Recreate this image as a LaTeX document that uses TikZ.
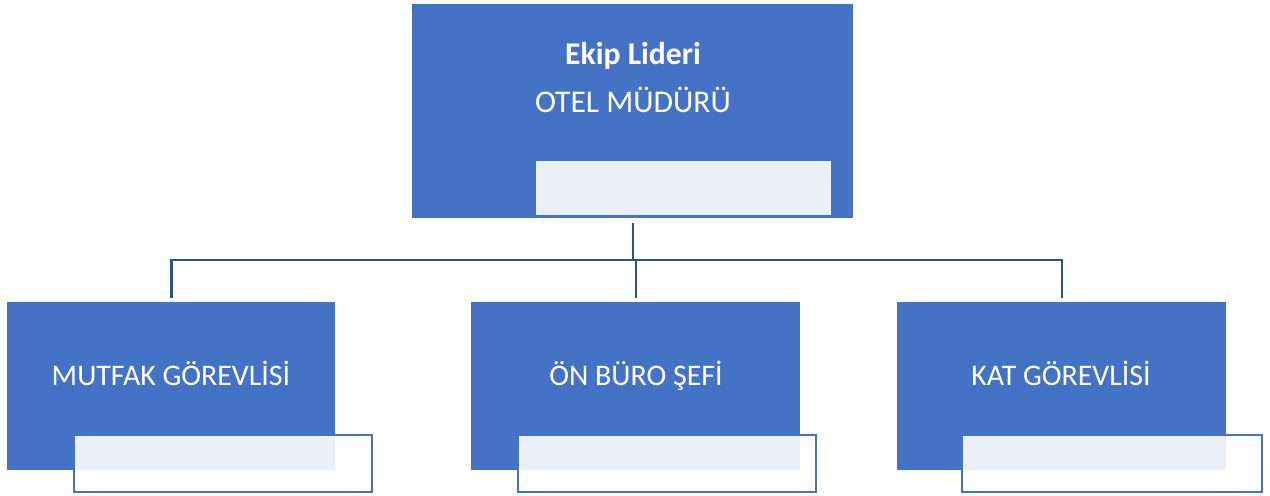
\documentclass[tikz,border=0pt]{standalone}
\usepackage{fontspec}
\setmainfont{Carlito}
\begin{document}
\begin{tikzpicture}[x=0.02cm, y=-0.02cm,
    box/.style={draw=none, fill=BoxBlue, inner sep=0pt, anchor=north west},
    cover/.style={draw=BoxBlue, line width=1.1pt, fill=white, fill opacity=0.89, inner sep=0pt, anchor=north west},
    link/.style={draw=LinkBlue, line width=1.5pt},
    lbl/.style={text=white, font=\fontsize{17}{20}\selectfont, inner sep=0pt, anchor=base}]

\definecolor{BoxBlue}{HTML}{4472C4}
\definecolor{LinkBlue}{HTML}{2F528F}

\useasboundingbox (0,0) rectangle (1270,496);

% Boxes
\node[box, minimum width=441*0.02cm, minimum height=214*0.02cm] (lider) at (412,4) {};
\node[box, minimum width=328*0.02cm, minimum height=168*0.02cm] (mutfak) at (7,302) {};
\node[box, minimum width=329*0.02cm, minimum height=168*0.02cm] (buro) at (471,302) {};
\node[box, minimum width=329*0.02cm, minimum height=168*0.02cm] (kat) at (897,302) {};

% Light covers
\node[cover, draw=none, minimum width=295*0.02cm, minimum height=54*0.02cm] (liderc) at (535,160) {};
\node[cover, minimum width=298*0.02cm, minimum height=57*0.02cm] (mutfakc) at (73,434) {};
\node[cover, minimum width=298*0.02cm, minimum height=57*0.02cm] (buroc) at (517,434) {};
\node[cover, minimum width=300*0.02cm, minimum height=57*0.02cm] (katc) at (961,434) {};

% Connectors
\coordinate (bus) at (632,260);
\draw[link] ([yshift=-2.3pt]lider.south) -- (lider.south |- bus);
\draw[link] ([yshift=2.3pt]mutfak.north) |- (bus) -| ([yshift=2.3pt]kat.north);
\draw[link] (bus -| buro.north) -- ([yshift=2.3pt]buro.north);

% Labels
\node[lbl, font=\fontsize{18}{21}\selectfont\bfseries] (tlider) at (633,65) {Ekip Lideri};
\node[lbl, font=\fontsize{18}{21}\selectfont] (tmudur) at (633,113) {OTEL MÜDÜRÜ};
\node[lbl] (tmutfak) at (171,385) {MUTFAK GÖREVLİSİ};
\node[lbl] (tburo) at (636,385) {ÖN BÜRO ŞEFİ};
\node[lbl] (tkat) at (1061,385) {KAT GÖREVLİSİ};
\end{tikzpicture}
\end{document}
